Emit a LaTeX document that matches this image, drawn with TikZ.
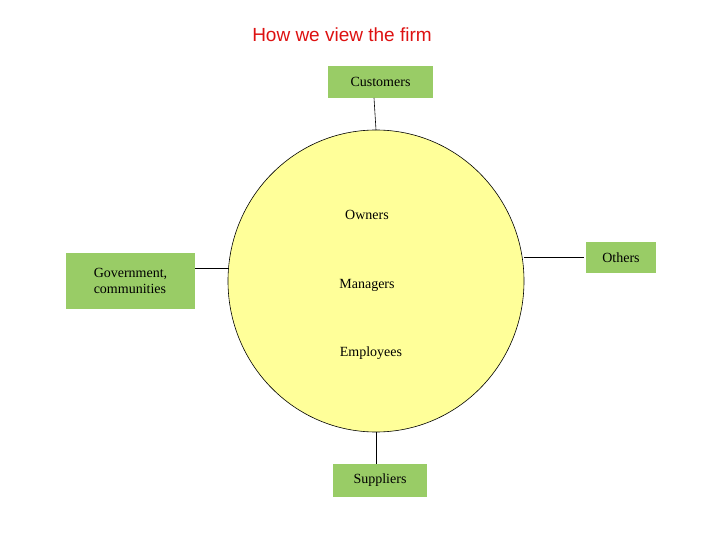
\documentclass[tikz,border=0pt]{standalone}
\usepackage{fontspec}
\usetikzlibrary{shapes.geometric}
\setmainfont{Liberation Serif}
\newfontfamily\arialf{Liberation Sans}
\definecolor{boxg}{HTML}{99CC66}
\definecolor{yel}{HTML}{FFFF99}
\definecolor{ttl}{HTML}{DD1111}
\begin{document}
\begin{tikzpicture}[x=1pt,y=-1pt,
  gbox/.style={fill=boxg,inner sep=0pt,font=\fontsize{14}{16}\selectfont},
  lbl/.style={font=\fontsize{14}{16}\selectfont},
  conn/.style={draw=black,line width=0.6pt}]
\useasboundingbox (0,0) rectangle (720,540);
\node[font=\arialf\fontsize{19}{22}\selectfont,text=ttl] (title) at (342,35) {How we view the firm};
\node[draw=black,fill=yel,ellipse,minimum width=296,minimum height=302,inner sep=0pt,line width=0.6pt] (firm) at (376,281) {};
\node[gbox,minimum width=105,minimum height=32] (cust) at (380.5,82) {Customers};
\node[gbox,minimum width=94,minimum height=33] (supp) at (380,480.5) {Suppliers};
\node[gbox,minimum width=129,minimum height=56,align=left] (gov) at (130.5,281) {Government,\\communities};
\node[gbox,minimum width=70,minimum height=31] (oth) at (621,257.5) {Others};
\node[lbl] (own) at (367,215) {Owners};
\node[lbl] (man) at (367,285) {Managers};
\node[lbl] (emp) at (371,353) {Employees};
\coordinate (c1) at (374,98); \coordinate (c2) at (376,130);
\coordinate (s1) at (376,432); \coordinate (s2) at (376,464);
\coordinate (g1) at (195,268); \coordinate (g2) at (228,268);
\coordinate (o1) at (524,257); \coordinate (o2) at (584,257);
\draw[conn] (c1) -- (c2);
\draw[conn] (s1) -- (s2);
\draw[conn] (g1) -- (g2);
\draw[conn] (o1) -- (o2);
\end{tikzpicture}
\end{document}
